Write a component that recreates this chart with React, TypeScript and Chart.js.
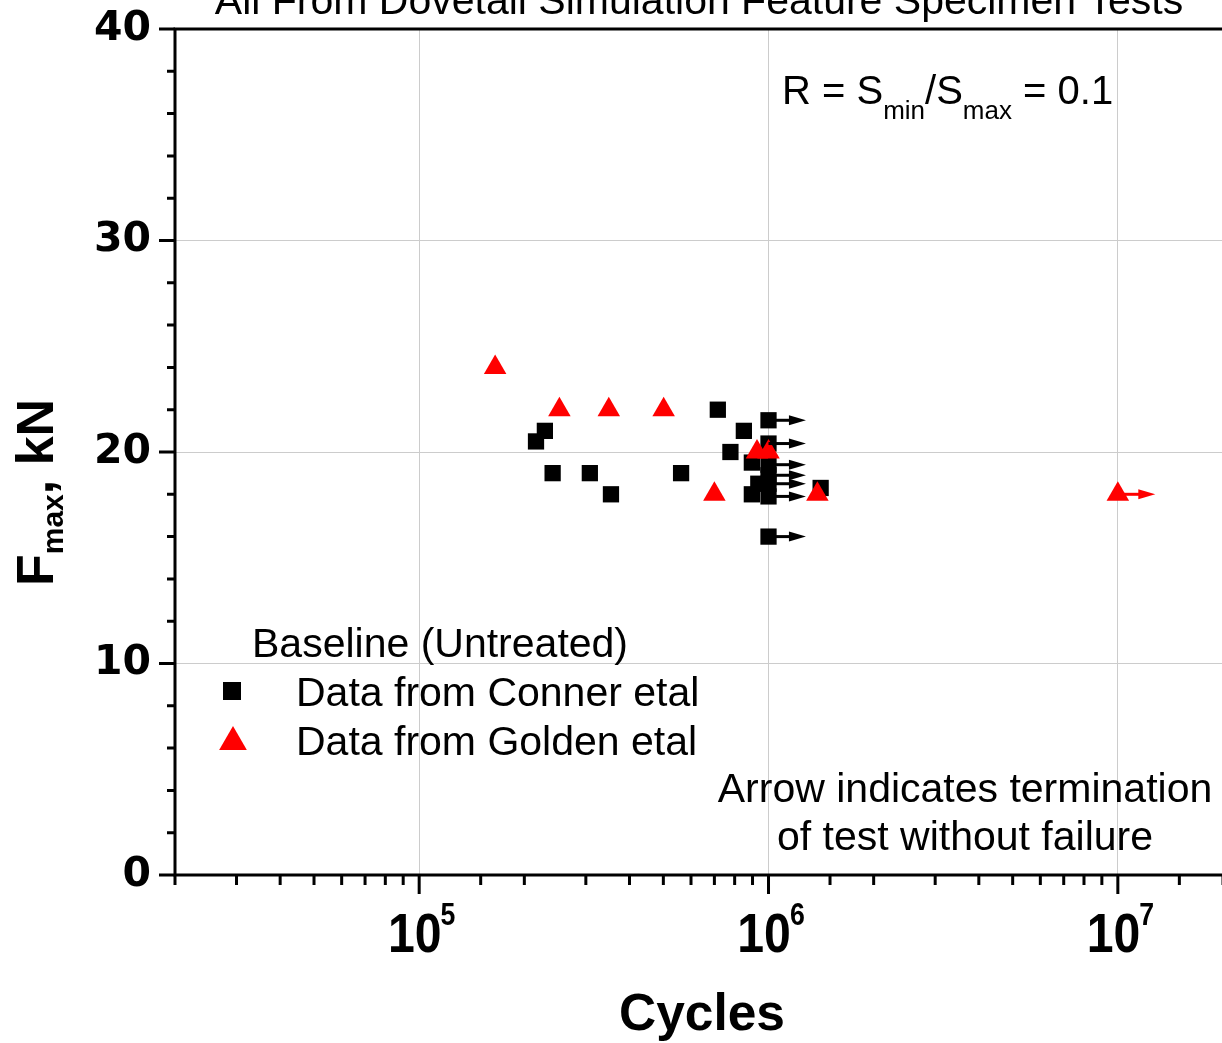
import React, { useEffect, useRef } from 'react';
import { Chart, registerables } from 'chart.js';

Chart.register(...registerables);

// ---------- data ----------
const TITLE = 'All From Dovetail Simulation Feature Specimen Tests';
const X_AXIS_TITLE = 'Cycles';
const Y_AXIS_TITLE = ['F', 'max', ', kN'];
const LEGEND_TITLE = 'Baseline (Untreated)';
const SERIES_NAMES = ['Data from Conner etal', 'Data from Golden etal'];
const SERIES_COLORS = ['#000000', '#ff0000'];
const R_NOTE = ['R = S', 'min', '/S', 'max', ' = 0.1'];
const RUNOUT_NOTE = ['Arrow indicates termination', 'of test without failure'];

const connerCycles = [2.16e5, 2.29e5, 2.41e5, 3.08e5, 3.54e5, 5.62e5, 7.16e5, 7.78e5, 8.5e5, 8.96e5, 9.35e5, 8.96e5, 1.0e6, 1.0e6, 1.0e6, 1.0e6, 1.0e6, 1.0e6, 1.0e6, 1.41e6];
const connerLoad = [20.5, 21, 19, 19, 18, 19, 22, 20, 21, 19.5, 18.5, 18, 21.5, 20.4, 19.4, 18.9, 18.5, 17.9, 16, 18.3];
const connerRunout = [false, false, false, false, false, false, false, false, false, false, false, false, true, true, true, true, true, true, true, false];

const goldenCycles = [1.65e5, 2.52e5, 3.49e5, 5.01e5, 7.0e5, 9.27e5, 1.0e6, 1.38e6, 1.0e7];
const goldenLoad = [24, 22, 22, 22, 18, 20, 20, 18, 18];
const goldenRunout = [false, false, false, false, false, false, false, false, true];

const X_MIN = 2e4;
const X_MAX = 2e7;
const Y_MIN = 0;
const Y_MAX = 40;
const Y_MINOR_STEP = 2;
const Y_LABEL_STEP = 10;
const xTickValues = [1e5, 1e6, 1e7];
const xTickBase = '10';
const xTickExponents = ['5', '6', '7'];

// ---------- styles ----------
const W = 1222;
const H = 1043;
const CANVAS_W = 1236;
const FONT = '"Liberation Sans", Arial, Helvetica, sans-serif';
const GRID = '#cccccc';
const RUNOUT_FACTOR = 1.28;

function isDecade(v: number) {
  const l = Math.log10(v);
  return Math.abs(l - Math.round(l)) < 1e-6;
}

function scaledText(ctx: any, text: string, x: number, y: number, sx: number) {
  ctx.save();
  ctx.translate(x, y);
  ctx.scale(sx, 1);
  ctx.fillText(text, 0, 0);
  ctx.restore();
}

const decorPlugin = {
  id: 'decor',
  afterDatasetsDraw(chart: any) {
    const ctx = chart.ctx;
    const xs = chart.scales.x;
    const ys = chart.scales.y;
    const series = [
      { xs: connerCycles, ys: connerLoad, r: connerRunout, c: SERIES_COLORS[0] },
      { xs: goldenCycles, ys: goldenLoad, r: goldenRunout, c: SERIES_COLORS[1] },
    ];
    ctx.save();
    series.forEach((s) => {
      s.xs.forEach((xv, i) => {
        if (!s.r[i]) return;
        const x0 = xs.getPixelForValue(xv);
        const x1 = xs.getPixelForValue(xv * RUNOUT_FACTOR);
        const y = ys.getPixelForValue(s.ys[i]);
        ctx.strokeStyle = s.c;
        ctx.fillStyle = s.c;
        ctx.lineWidth = 3;
        ctx.beginPath();
        ctx.moveTo(x0, y);
        ctx.lineTo(x1 - 14, y);
        ctx.stroke();
        ctx.beginPath();
        ctx.moveTo(x1 - 17, y - 5);
        ctx.lineTo(x1, y);
        ctx.lineTo(x1 - 17, y + 5);
        ctx.closePath();
        ctx.fill();
      });
    });
    ctx.restore();
  },
  afterDraw(chart: any) {
    const ctx = chart.ctx;
    const a = chart.chartArea;
    const xs = chart.scales.x;
    const ys = chart.scales.y;
    ctx.save();
    ctx.strokeStyle = '#000';
    ctx.fillStyle = '#000';
    ctx.lineWidth = 3;
    // axis lines
    ctx.beginPath();
    ctx.moveTo(a.left, a.bottom);
    ctx.lineTo(a.left, a.top);
    ctx.moveTo(a.left - 1.5, a.bottom);
    ctx.lineTo(a.right + 2, a.bottom);
    ctx.moveTo(a.left - 1.5, a.top);
    ctx.lineTo(a.right + 2, a.top);
    ctx.stroke();
    // y ticks (outward, left)
    ctx.beginPath();
    ys.ticks.forEach((t: any) => {
      const y = ys.getPixelForValue(t.value);
      const major = t.value % Y_LABEL_STEP === 0;
      ctx.moveTo(a.left, y);
      ctx.lineTo(a.left - (major ? 16 : 8), y);
    });
    ctx.stroke();
    // x ticks (outward, down)
    ctx.beginPath();
    xs.ticks.forEach((t: any) => {
      const x = xs.getPixelForValue(t.value);
      if (x < a.left - 0.5 || x > a.right + 0.5) return;
      const major = isDecade(t.value);
      ctx.moveTo(x, a.bottom);
      ctx.lineTo(x, a.bottom + (major ? 19 : 10));
    });
    ctx.stroke();

    // x tick labels 10^n
    const SXT = 0.86;
    xTickValues.forEach((v, i) => {
      const x = xs.getPixelForValue(v);
      ctx.font = `bold 56px ${FONT}`;
      const wb = ctx.measureText(xTickBase).width * SXT;
      ctx.font = `bold 31px ${FONT}`;
      const we = ctx.measureText(xTickExponents[i]).width * SXT;
      const start = x - (wb + we) / 2 + 3;
      ctx.textAlign = 'left';
      ctx.textBaseline = 'alphabetic';
      ctx.font = `bold 56px ${FONT}`;
      scaledText(ctx, xTickBase, start, a.bottom + 77, SXT);
      ctx.font = `bold 31px ${FONT}`;
      scaledText(ctx, xTickExponents[i], start + wb - 1, a.bottom + 50, SXT);
    });

    // x axis title
    ctx.textAlign = 'center';
    ctx.font = `bold 52px ${FONT}`;
    scaledText(ctx, X_AXIS_TITLE, (a.left + a.right) / 2 + 3, a.bottom + 155, 0.99);

    // y axis title (rotated)
    ctx.save();
    ctx.translate(53, 586);
    ctx.rotate(-Math.PI / 2);
    ctx.textAlign = 'left';
    ctx.font = `bold 52px ${FONT}`;
    ctx.fillText(Y_AXIS_TITLE[0], 0, 0);
    let px = ctx.measureText(Y_AXIS_TITLE[0]).width;
    ctx.font = `bold 30px ${FONT}`;
    ctx.fillText(Y_AXIS_TITLE[1], px, 10);
    px += ctx.measureText(Y_AXIS_TITLE[1]).width;
    ctx.font = `bold 52px ${FONT}`;
    ctx.fillText(Y_AXIS_TITLE[2], px, 0);
    ctx.restore();

    // title (clipped at top)
    ctx.textAlign = 'center';
    ctx.font = `41px ${FONT}`;
    ctx.fillText(TITLE, (a.left + a.right) / 2, 14);

    // R note
    ctx.textAlign = 'left';
    let rx = 782;
    R_NOTE.forEach((s, i) => {
      const sub = i % 2 === 1;
      ctx.font = sub ? `26px ${FONT}` : `40px ${FONT}`;
      ctx.fillText(s, rx, sub ? 119 : 104);
      rx += ctx.measureText(s).width;
    });

    // runout note
    ctx.textAlign = 'center';
    ctx.font = `41px ${FONT}`;
    ctx.fillText(RUNOUT_NOTE[0], 965, 802);
    ctx.fillText(RUNOUT_NOTE[1], 965, 850);

    // legend
    ctx.textAlign = 'left';
    ctx.font = `41px ${FONT}`;
    ctx.fillText(LEGEND_TITLE, 252, 657);
    ctx.fillText(SERIES_NAMES[0], 296, 706);
    ctx.fillText(SERIES_NAMES[1], 296, 755);
    ctx.fillStyle = SERIES_COLORS[0];
    ctx.fillRect(232 - 9, 691 - 9, 18, 18);
    ctx.fillStyle = SERIES_COLORS[1];
    const r = 16;
    const cx = 233;
    const cy = 742;
    ctx.beginPath();
    ctx.moveTo(cx, cy - r);
    ctx.lineTo(cx + r * 0.866, cy + r * 0.5);
    ctx.lineTo(cx - r * 0.866, cy + r * 0.5);
    ctx.closePath();
    ctx.fill();
    ctx.restore();
  },
};

export default function App() {
  const ref = useRef<HTMLCanvasElement>(null);
  useEffect(() => {
    if (!ref.current) return;
    const chart = new Chart(ref.current, {
      type: 'scatter',
      data: {
        datasets: [
          {
            label: SERIES_NAMES[1],
            data: goldenCycles.map((x, i) => ({ x, y: goldenLoad[i] })),
            pointStyle: 'triangle',
            pointRadius: 13,
            pointBorderWidth: 0,
            backgroundColor: SERIES_COLORS[1],
            borderColor: SERIES_COLORS[1],
            order: 0,
          },
          {
            label: SERIES_NAMES[0],
            data: connerCycles.map((x, i) => ({ x, y: connerLoad[i] })),
            pointStyle: 'rect',
            pointRadius: 11.5,
            pointBorderWidth: 0,
            backgroundColor: SERIES_COLORS[0],
            borderColor: SERIES_COLORS[0],
            order: 1,
          },
        ],
      },
      options: {
        responsive: false,
        animation: false,
        devicePixelRatio: 1,
        layout: { padding: { top: 29, right: 0, left: 0, bottom: 0 } },
        plugins: {
          legend: { display: false },
          tooltip: { enabled: false },
          title: { display: false },
        },
        scales: {
          x: {
            type: 'logarithmic',
            min: X_MIN,
            max: X_MAX,
            ticks: { display: false },
            grid: {
              drawTicks: false,
              lineWidth: 1,
              color: (c: any) => (c.tick && isDecade(c.tick.value) && c.tick.value > X_MIN && c.tick.value < X_MAX ? GRID : 'rgba(0,0,0,0)'),
            },
            border: { display: false },
            afterFit: (s: any) => {
              s.height = H - 875;
              s.paddingLeft = 0;
              s.paddingRight = 0;
            },
          },
          y: {
            type: 'linear',
            min: Y_MIN,
            max: Y_MAX,
            ticks: {
              stepSize: Y_MINOR_STEP,
              autoSkip: false,
              padding: 24,
              color: '#000',
              font: { family: '"DejaVu Sans", sans-serif', weight: 'bold', size: 41 },
              callback: (v: any) => (Number(v) % Y_LABEL_STEP === 0 ? String(v) : ''),
            },
            grid: {
              drawTicks: false,
              lineWidth: 1,
              color: (c: any) => (c.tick && c.tick.value % Y_LABEL_STEP === 0 && c.tick.value > Y_MIN && c.tick.value < Y_MAX ? GRID : 'rgba(0,0,0,0)'),
            },
            border: { display: false },
            afterFit: (s: any) => {
              s.width = 175;
              s.paddingTop = 0;
              s.paddingBottom = 0;
            },
          },
        },
      },
      plugins: [decorPlugin],
    } as any);
    return () => chart.destroy();
  }, []);
  return (
    <div style={{ position: 'absolute', left: 0, top: 0, width: W, height: H, overflow: 'hidden', background: '#fff' }}>
      <canvas ref={ref} width={CANVAS_W} height={H} style={{ width: CANVAS_W, height: H, display: 'block' }} />
    </div>
  );
}
